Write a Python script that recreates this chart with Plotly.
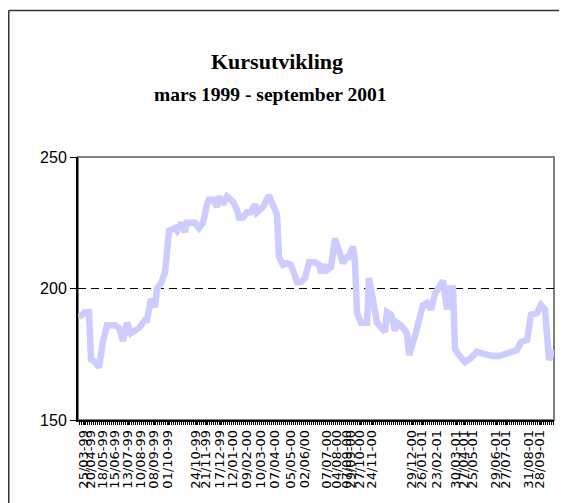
import plotly.graph_objects as go

# ---------------- data ----------------
N_CATEGORIES = 238  # number of category slots along the x axis

# category index of each sampled point and the share price there
POINT_IDX = [0, 3, 5, 6, 8, 10, 12, 14, 18, 20, 22, 24, 26, 30, 33, 34, 36, 38, 39, 41,
             43, 44, 45, 48, 49, 51, 53, 54, 58, 60, 62, 64, 65, 67, 69, 70, 72, 74, 77, 79,
             80, 82, 84, 86, 88, 89, 92, 95, 97, 99, 100, 102, 104, 106, 109, 111, 113, 115, 118, 120,
             121, 123, 124, 126, 128, 130, 132, 134, 135, 137, 138, 139, 141, 144, 145, 147, 149, 153, 154, 156,
             158, 159, 161, 164, 165, 168, 172, 174, 176, 178, 180, 182, 184, 185, 187, 188, 190, 193, 196, 199,
             201, 204, 207, 210, 214, 217, 219, 221, 224, 226, 229, 231, 233, 235, 237]
PRICE = [189, 191, 191, 173, 172, 170, 180, 186, 186, 185, 180, 187, 183, 185, 188, 188, 196, 193, 200, 202,
         206, 212, 222, 223, 222, 225, 221.5, 225, 225, 223, 225, 232, 233.7, 233.7, 231, 235, 232, 235, 233, 230,
         227, 227, 229, 229, 232, 229, 231, 235.5, 232, 228, 212, 209, 209.7, 209, 202.5, 202.5, 204, 210, 210, 209,
         206, 209, 207, 208, 219, 215, 209.7, 212, 212, 216, 210, 190.7, 187, 187, 204, 195.6, 187, 183.5, 191, 190,
         184, 187, 186, 183, 174.7, 182, 193.7, 194.5, 192, 198, 201, 203, 192, 200, 200, 177, 174.7, 172, 173.6, 176,
         175.4, 174.7, 174.3, 174.3, 175.4, 176.6, 176.6, 179.7, 180.4, 190, 190.7, 193.7, 192, 172.8, 176.6]

TICK_LABELS = ["25/03-99", "20/04-99", "18/05-99", "15/06-99", "13/07-99", "10/08-99", "08/09-99",
               "01/10-99", "24/10-99", "21/11-99", "17/12-99", "12/01-00", "09/02-00", "10/03-00",
               "07/04-00", "05/05-00", "02/06/00", "07/07-00", "04/08-00", "07/09-00", "29/09-00",
               "27/10-00", "24/11-00", "29/12-00", "26/01-01", "23/02-01", "30/03-01", "27/04-01",
               "25/05-01", "29/06-01", "27/07-01", "31/08-01", "28/09-01"]
TICK_IDX = [2.5, 6, 12, 18, 24.5, 31, 37.5, 44.5, 58.5, 63.5, 70.5, 77, 84, 91, 98, 106, 113,
            124, 129, 134, 136, 140.5, 146.5, 166.5, 171.5, 179, 188.5, 192.5, 197, 208.5, 213.5,
            225, 230.5]

Y_TICKS = [150, 200, 250]
GRID_LEVELS = [200]

TITLE = "Kursutvikling"
SUBTITLE = "mars 1999 - september 2001"

# ---------------- layout geometry ----------------
W, H = 567, 503
L, R, T, B = 70, 21, 149, 91
PW, PH = W - L - R, H - T - B


def px_x(px):
    return (px - L) / PW


def px_y(py):
    return 1 + (T - py) / PH


fig = go.Figure()
fig.add_trace(go.Scatter(x=POINT_IDX, y=PRICE, mode="lines",
                         line=dict(color="#CCCCFF", width=6.5), hoverinfo="skip",
                         showlegend=False))

shapes = []
# plot-area frame (grey top/right)
shapes.append(dict(type="rect", xref="paper", yref="paper", x0=0, x1=1, y0=0, y1=1,
                   line=dict(color="#808080", width=2), layer="below"))
# dashed gridline
for g in GRID_LEVELS:
    shapes.append(dict(type="line", xref="paper", yref="y", x0=0, x1=1, y0=g, y1=g,
                       line=dict(color="black", width=1, dash="8px,5px"), layer="below"))
# outer chart frame (only the top and left edges fall inside the window)
shapes.append(dict(type="line", xref="paper", yref="paper", x0=px_x(0.75), x1=px_x(W + 20),
                   y0=px_y(2.5), y1=px_y(2.5), line=dict(color="#333333", width=1.5)))
shapes.append(dict(type="line", xref="paper", yref="paper", x0=px_x(0.75), x1=px_x(0.75),
                   y0=px_y(2.5), y1=px_y(H + 20), line=dict(color="#333333", width=1.5)))

annotations = [
    dict(text=TITLE, xref="paper", yref="paper", x=px_x(269), y=px_y(53), showarrow=False,
         xanchor="center", yanchor="middle",
         font=dict(family="Liberation Serif, Times New Roman, serif", size=22, color="black",
                   weight="bold")),
    dict(text=SUBTITLE, xref="paper", yref="paper", x=px_x(262), y=px_y(86), showarrow=False,
         xanchor="center", yanchor="middle",
         font=dict(family="Liberation Serif, Times New Roman, serif", size=19.5, color="black",
                   weight="bold")),
]

fig.update_layout(
    width=W, height=H,
    margin=dict(l=L, r=R, t=T, b=B, pad=0),
    paper_bgcolor="white", plot_bgcolor="white",
    shapes=shapes, annotations=annotations,
    xaxis=dict(range=[-0.5, N_CATEGORIES - 0.5], tickmode="array", tickvals=TICK_IDX,
               ticktext=TICK_LABELS, tickangle=-90,
               tickfont=dict(family="DejaVu Sans, Arial, sans-serif", size=13, color="black"),
               ticks="outside", ticklen=3, tickcolor="black", tickwidth=1,
               showline=True, linecolor="black", linewidth=1.5,
               showgrid=False, zeroline=False, automargin=False,
               minor=dict(ticks="outside", ticklen=3, tickcolor="black", tickwidth=1,
                          dtick=1, tick0=0, showgrid=False)),
    yaxis=dict(range=[150, 250], tickmode="array", tickvals=Y_TICKS,
               tickfont=dict(family="Liberation Sans, Arial, sans-serif", size=16, color="black"),
               ticks="outside", ticklen=6, tickcolor="black", tickwidth=1,
               showline=True, linecolor="black", linewidth=2,
               showgrid=False, zeroline=False, automargin=False),
)

fig.write_html("out.html")
